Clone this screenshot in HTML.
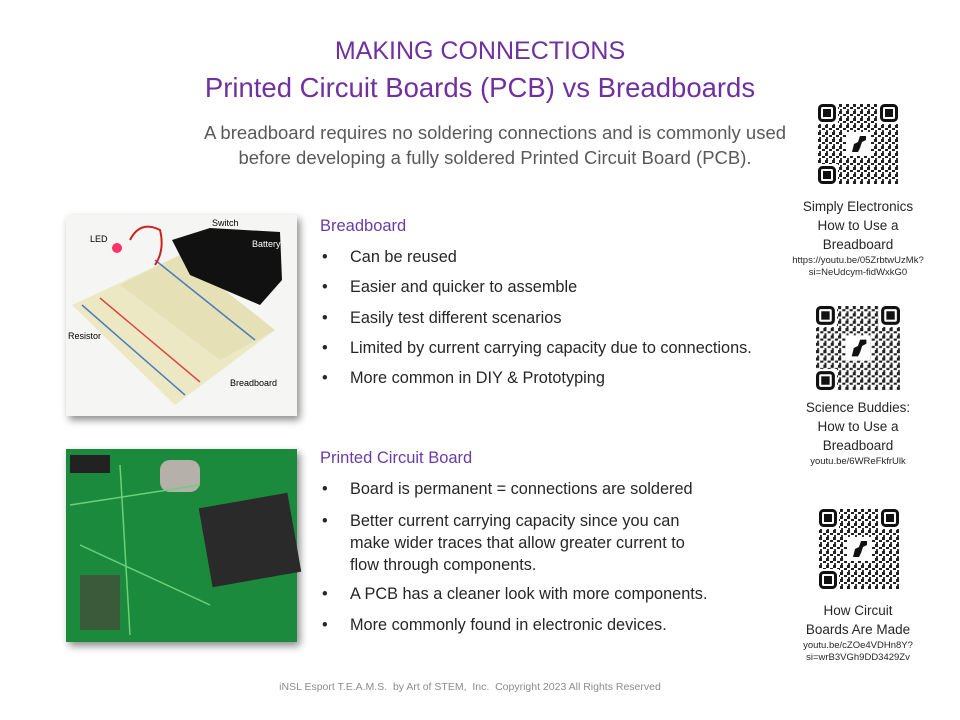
<!DOCTYPE html>
<html><head><meta charset="utf-8"><style>
body{margin:0;width:960px;height:720px;background:#fff;position:relative;overflow:hidden;font-family:"Liberation Sans",sans-serif}
.a{position:absolute;white-space:nowrap}
.t{color:#7030a0;text-align:center;left:0;width:960px}
.d{color:#595959;font-size:18.5px;text-align:center;left:185px;width:620px;line-height:25px}
.h{color:#6a3ba8;font-size:16.5px;left:320px}
.b{color:#262626;font-size:16.3px;left:322px}
.b span{position:absolute;left:28px}
.q{color:#262626;font-size:13.5px;text-align:center;width:140px;line-height:19px}
.s{font-size:9.5px;line-height:12px}
</style></head><body>
<div class="a t" style="top:37px;font-size:25px">MAKING CONNECTIONS</div>
<div class="a t" style="top:72px;font-size:27.5px">Printed Circuit Boards (PCB) vs Breadboards</div>
<div class="a d" style="top:120px">A breadboard requires no soldering connections and is commonly used<br>before developing a fully soldered Printed Circuit Board (PCB).</div>

<svg class="a" style="left:60px;top:210px" width="250" height="220">
<defs><filter id="sh"><feDropShadow dx="3" dy="4" stdDeviation="4" flood-opacity="0.45"/></filter></defs>
<rect x="6" y="5" width="231" height="201" fill="#f5f5f3" filter="url(#sh)"/>
<polygon points="12,95 120,45 215,120 115,195" fill="#ede8c4"/>
<polygon points="60,75 120,45 215,120 160,150" fill="#e6e0b6"/>
<line x1="22" y1="95" x2="125" y2="185" stroke="#4a7dbd" stroke-width="1.5"/>
<line x1="40" y1="88" x2="140" y2="172" stroke="#d44" stroke-width="1.5"/>
<line x1="95" y1="50" x2="195" y2="130" stroke="#4a7dbd" stroke-width="1.5"/>
<polygon points="112,30 150,18 220,22 222,70 200,95 130,65" fill="#111"/>
<path d="M70 30 Q80 10 100 20 Q105 40 95 55" stroke="#c22" stroke-width="2" fill="none"/>
<circle cx="57" cy="38" r="5" fill="#f36"/>
<text x="30" y="32" font-size="9">LED</text><text x="152" y="16" font-size="9">Switch</text>
<text x="192" y="37" font-size="9" fill="#fff">Battery</text><text x="8" y="129" font-size="9">Resistor</text>
<text x="170" y="176" font-size="9">Breadboard</text>
</svg>

<svg class="a" style="left:60px;top:445px" width="250" height="210">
<rect x="6" y="4" width="231" height="193" fill="#1d8a3c" filter="url(#sh)"/>
<rect x="145" y="55" width="90" height="80" fill="#2a2a2a" transform="rotate(-10 190 95)"/>
<rect x="100" y="15" width="40" height="32" rx="10" fill="#b5b0aa"/>
<rect x="20" y="130" width="40" height="55" fill="#3a5a3a"/>
<path d="M10 60 L140 40 M20 100 L150 160 M60 20 L70 190" stroke="#6cd07a" stroke-width="1.5" fill="none"/>
<rect x="10" y="10" width="40" height="18" fill="#222"/>
</svg>

<div class="a h" style="top:217px">Breadboard</div>
<div class="a b" style="top:248px">•<span>Can be reused</span></div>
<div class="a b" style="top:278px">•<span>Easier and quicker to assemble</span></div>
<div class="a b" style="top:309px">•<span>Easily test different scenarios</span></div>
<div class="a b" style="top:339px">•<span>Limited by current carrying capacity due to connections.</span></div>
<div class="a b" style="top:369px">•<span>More common in DIY &amp; Prototyping</span></div>

<div class="a h" style="top:449px">Printed Circuit Board</div>
<div class="a b" style="top:480px">•<span>Board is permanent = connections are soldered</span></div>
<div class="a b" style="top:510px;line-height:22px">•<span>Better current carrying capacity since you can<br>make wider traces that allow greater current to<br>flow through components.</span></div>
<div class="a b" style="top:585px">•<span>A PCB has a cleaner look with more components.</span></div>
<div class="a b" style="top:616px">•<span>More commonly found in electronic devices.</span></div>

<svg width="0" height="0" style="position:absolute"><defs>
<pattern id="qp" width="7" height="7" patternUnits="userSpaceOnUse">
<rect width="3" height="3" fill="#222"/><rect x="4" y="3" width="3" height="2" fill="#222"/><rect x="1" y="5" width="2" height="2" fill="#333"/></pattern>
<g id="qr">
<rect width="80" height="80" fill="url(#qp)"/>
<g fill="#fff"><rect width="20" height="20"/><rect x="60" width="20" height="20"/><rect y="60" width="20" height="20"/></g>
<g fill="none" stroke="#111" stroke-width="3"><rect x="1.5" y="1.5" width="15" height="15" rx="3"/><rect x="63.5" y="1.5" width="15" height="15" rx="3"/><rect x="1.5" y="63.5" width="15" height="15" rx="3"/></g>
<g fill="#111"><rect x="5" y="5" width="8" height="8"/><rect x="67" y="5" width="8" height="8"/><rect x="5" y="67" width="8" height="8"/></g>
<rect x="28" y="28" width="24" height="24" fill="#fff"/><path d="M34 48 L36 40 L40 38 L42 32 L48 32 L48 36 L44 38 L42 44 L40 48Z" fill="#111"/>
</g></defs></svg>
<svg class="a" style="left:818px;top:104px" width="80" height="80"><use href="#qr"/></svg>
<svg class="a" style="left:816px;top:306px" width="84" height="84"><g transform="scale(1.05)"><use href="#qr"/></g></svg>
<svg class="a" style="left:819px;top:509px" width="80" height="80"><use href="#qr"/></svg>

<div class="a q" style="left:788px;top:197px">Simply Electronics<br>How to Use a<br>Breadboard</div>
<div class="a q s" style="left:788px;top:255px">https://youtu.be/05ZrbtwUzMk?<br>si=NeUdcym-fidWxkG0</div>
<div class="a q" style="left:788px;top:398px">Science Buddies:<br>How to Use a<br>Breadboard</div>
<div class="a q s" style="left:788px;top:456px">youtu.be/6WReFkfrUlk</div>
<div class="a q" style="left:788px;top:601px">How Circuit<br>Boards Are Made</div>
<div class="a q s" style="left:788px;top:640px">youtu.be/cZOe4VDHn8Y?<br>si=wrB3VGh9DD3429Zv</div>

<div class="a" style="left:0;width:940px;text-align:center;top:681px;font-size:10.5px;color:#8c8c8c">iNSL Esport T.E.A.M.S.&nbsp; by Art of STEM,&nbsp; Inc.&nbsp; Copyright 2023 All Rights Reserved</div>
</body></html>
